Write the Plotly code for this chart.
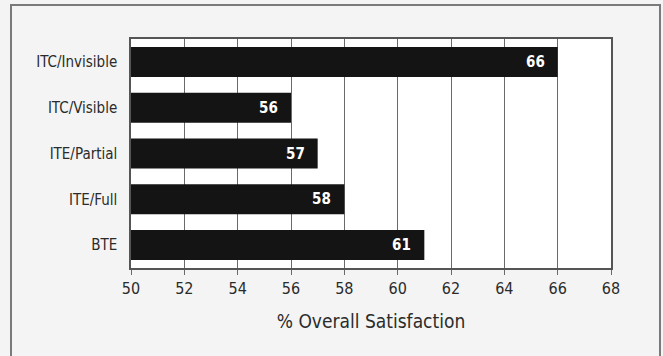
import plotly.graph_objects as go

# Satisfaction by hearing-aid style
categories = ["ITC/Invisible", "ITC/Visible", "ITE/Partial", "ITE/Full", "BTE"]
satisfaction = [66, 56, 57, 58, 61]
tick_values = [50, 52, 54, 56, 58, 60, 62, 64, 66, 68]

FONT = "DejaVu Sans Condensed, Liberation Sans Narrow, sans-serif"
INK = "#2b2b2b"

W, H = 663, 356
L, R, T, B = 131, 52, 39, 88
pw, ph = W - L - R, H - T - B

fig = go.Figure()
fig.add_trace(go.Bar(
    x=satisfaction,
    y=categories,
    orientation="h",
    marker=dict(color="#141414", line=dict(width=0)),
    width=0.655,
    hoverinfo="x+y",
))

# value labels inside the bar ends
for cat, val in zip(categories, satisfaction):
    fig.add_annotation(
        x=val, y=cat, xref="x", yref="y",
        text=f"<b>{val}</b>", showarrow=False,
        xanchor="right", xshift=-11,
        font=dict(family=FONT, size=15, color="white"),
    )

# outer frame around the figure
fig.add_shape(
    type="rect", xref="paper", yref="paper",
    x0=(11 - L) / pw, x1=(660 - L) / pw,
    y0=(H - B - 362) / ph, y1=(H - B - 5) / ph,
    line=dict(color="#7a7a7a", width=2), layer="below",
)

fig.update_layout(
    width=W, height=H,
    margin=dict(l=L, r=R, t=T, b=B),
    paper_bgcolor="#f4f4f4",
    plot_bgcolor="white",
    showlegend=False,
    font=dict(family=FONT, size=15, color=INK),
    xaxis=dict(
        range=[50, 68], tickvals=tick_values,
        showgrid=True, gridcolor="#6a6a6a", gridwidth=1,
        ticks="outside", ticklen=5, tickcolor="#6a6a6a",
        showline=True, linecolor="#555555", linewidth=1.5, mirror=True,
        zeroline=False,
        tickfont=dict(family=FONT, size=16, color=INK),
        title=dict(text="% Overall Satisfaction", standoff=18,
                   font=dict(family=FONT, size=19, color=INK)),
    ),
    yaxis=dict(
        categoryorder="array", categoryarray=categories,
        autorange="reversed",
        showgrid=False, ticks="outside", ticklen=9, tickcolor="rgba(0,0,0,0)",
        showline=True, linecolor="#555555", linewidth=1.5, mirror=True,
        tickfont=dict(family=FONT, size=15, color=INK),
    ),
)

fig.write_html("out.html")
